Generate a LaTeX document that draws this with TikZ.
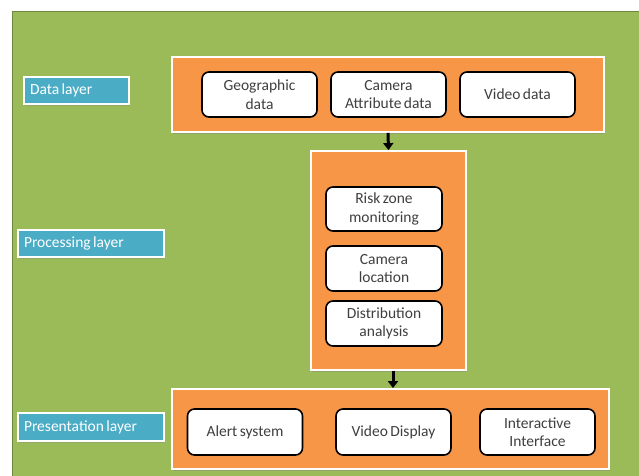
\documentclass[tikz,border=0pt]{standalone}
\usepackage{fontspec}
\setmainfont{Carlito}[WordSpace={0.7}]
\usetikzlibrary{arrows.meta,shadows}
\definecolor{bggreen}{HTML}{9BBB59}
\definecolor{bgborder}{HTML}{71893F}
\definecolor{layorange}{HTML}{F79646}
\definecolor{labteal}{HTML}{4BACC6}
\definecolor{txtgray}{HTML}{3F3F3F}
\newcommand{\labtext}[2]{\makebox[#1][l]{#2}}
\begin{document}
\begin{tikzpicture}[x=1pt,y=-1pt,
  font=\fontsize{15.5}{18.5}\selectfont,
  layerbox/.style={draw=white,line width=1.8pt,fill=layorange,inner sep=0pt,
    drop shadow={shadow xshift=1pt,shadow yshift=-1.5pt,opacity=0.35}},
  itembox/.style={draw=black,line width=1.6pt,fill=white,rounded corners=7pt,
    inner sep=0pt,minimum width=115pt,minimum height=45pt,align=center,text=txtgray},
  labelbox/.style={draw=white,line width=1.8pt,fill=labteal,text=white,
    inner xsep=6pt,inner ysep=0pt,minimum height=27pt,
    drop shadow={shadow xshift=1pt,shadow yshift=-1.5pt,opacity=0.3}},
  flowarrow/.style={line width=3pt,-{Triangle[length=7pt,width=10pt]}}]
\useasboundingbox (0,0) rectangle (639,475);
\path[fill=bggreen,draw=bgborder,line width=1pt] (12,11) rectangle (642,478);

% layer containers
\node[layerbox,minimum width=432pt,minimum height=75pt] (data) at (388,94.5) {};
\node[layerbox,minimum width=155pt,minimum height=219pt] (proc) at (388.5,260.5) {};
\node[layerbox,minimum width=437pt,minimum height=80pt] (pres) at (390.5,429) {};

% data layer items
\node[itembox] (geo) at (259.5,94.5) {Geographic\\data};
\node[itembox] (cam) at (388.5,94.5) {Camera\\Attribute data};
\node[itembox] (vid) at (517.5,94.5) {Video data};

% processing layer items
\node[itembox,minimum width=116pt,minimum height=44pt] (risk) at (384,209) {Risk zone\\monitoring};
\node[itembox,minimum width=116pt] (camloc) at (384,268.5) {Camera\\location};
\node[itembox,minimum width=116pt] (dist) at (384,323.5) {Distribution\\analysis};

% presentation layer items
\node[itembox,minimum height=46pt] (alert) at (245,432) {Alert system};
\node[itembox,minimum height=46pt] (vdisp) at (393.5,432) {Video Display};
\node[itembox,minimum height=46pt] (inter) at (537.5,432) {Interactive\\Interface};

% layer labels
\node[labelbox] (ldata) at (76.5,90.5) {\labtext{93pt}{Data layer}};
\node[labelbox] (lproc) at (91,243.5) {\labtext{134pt}{Processing layer}};
\node[labelbox,minimum height=28pt] (lpres) at (91,427) {\labtext{134pt}{Presentation layer}};

% arrows
\draw[flowarrow] (data.south) -- (proc.north);
\draw[flowarrow] ([xshift=4.5pt]proc.south) -- ([xshift=4.5pt]proc.south |- pres.north);
\end{tikzpicture}
\end{document}
